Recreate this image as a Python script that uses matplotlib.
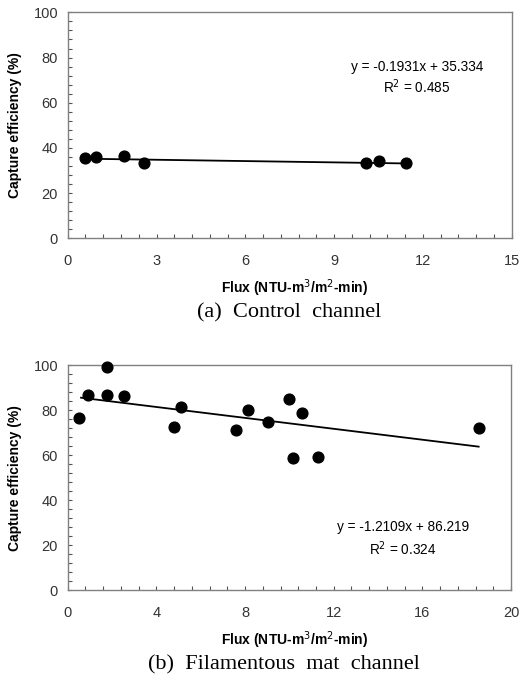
import matplotlib
matplotlib.use("Agg")
import matplotlib.pyplot as plt
from matplotlib.ticker import MultipleLocator
import numpy as np

# Control channel data
ctrl_flux = [0.60, 0.97, 1.89, 2.58, 10.09, 10.50, 11.43]
ctrl_eff = [35.5, 35.8, 36.3, 33.2, 33.2, 34.2, 33.2]
ctrl_slope, ctrl_icpt, ctrl_r2 = -0.1931, 35.334, 0.485

# Filamentous mat channel data
mat_flux = [0.53, 0.93, 1.79, 1.79, 2.54, 4.81, 5.10, 7.58, 8.15, 9.02,
            10.00, 10.17, 10.56, 11.28, 18.54]
mat_eff = [76.6, 86.7, 99.3, 86.7, 86.4, 72.5, 81.2, 71.3, 79.9, 74.9,
           85.1, 58.7, 78.8, 59.0, 72.2]
mat_slope, mat_icpt, mat_r2 = -1.2109, 86.219, 0.324

xlabel = "Flux (NTU-m$^{3}$/m$^{2}$-min)"
ylabel = "Capture efficiency (%)"

W, H = 519, 680
fig = plt.figure(figsize=(W / 100, H / 100), dpi=100)
sans = "Liberation Sans"
serif = "Liberation Serif"

def setup(ax, xmax, xmajor, xminor):
    ax.set_xlim(0, xmax)
    ax.set_ylim(0, 100)
    ax.xaxis.set_major_locator(MultipleLocator(xmajor))
    ax.xaxis.set_minor_locator(MultipleLocator(xminor))
    ax.yaxis.set_major_locator(MultipleLocator(20))
    ax.yaxis.set_minor_locator(MultipleLocator(4))
    for s in ax.spines.values():
        s.set_color("#808080")
        s.set_linewidth(1.0)
    ax.tick_params(which="both", direction="in", length=3, width=0.8,
                   color="#555555", top=False, right=False)
    ax.tick_params(which="major", labelsize=10.5, labelcolor="#333333")
    ax.tick_params(axis="x", which="major", pad=11)
    ax.tick_params(axis="y", which="major", pad=7)
    for lab in ax.get_xticklabels() + ax.get_yticklabels():
        lab.set_fontfamily(sans)
    ax.set_xlabel(xlabel, fontsize=10, fontweight="bold", family=sans)
    ax.set_ylabel(ylabel, fontsize=10, fontweight="bold", family=sans)
    bb = ax.get_position()
    wpx, hpx = bb.width * W, bb.height * H
    ax.xaxis.label.set_va("center")
    ax.yaxis.label.set_va("center")
    ax.xaxis.set_label_coords(0.5 + 5 / wpx, -50 / hpx)
    ax.yaxis.set_label_coords(-52.7 / wpx, 0.5)

ax1 = fig.add_axes([0.1305, 0.6496, 0.8555, 0.3322])
setup(ax1, 15, 3, 0.6)
ax1.scatter(ctrl_flux, ctrl_eff, s=60, color="black", zorder=3)
xl = np.array([min(ctrl_flux), max(ctrl_flux)])
ax1.plot(xl, ctrl_slope * xl + ctrl_icpt, color="black", lw=1.3)
ax1.text(11.8, 75.7, "y = -0.1931x + 35.334", ha="center", va="center",
         fontsize=9.8, family=sans)
ax1.text(11.8, 66.9, "R$^{2}$ = 0.485", ha="center", va="center",
         fontsize=9.8, family=sans)

ax2 = fig.add_axes([0.1305, 0.1319, 0.8541, 0.3313])
setup(ax2, 20, 4, 0.8)
ax2.scatter(mat_flux, mat_eff, s=60, color="black", zorder=3, clip_on=False)
xl2 = np.array([0.6, max(mat_flux)])
ax2.plot(xl2, mat_slope * xl2 + mat_icpt, color="black", lw=1.3)
ax2.text(15.13, 28.0, "y = -1.2109x + 86.219", ha="center", va="center",
         fontsize=9.8, family=sans)
ax2.text(15.13, 18.6, "R$^{2}$ = 0.324", ha="center", va="center",
         fontsize=9.8, family=sans)

fig.text(289.5 / W, 1 - 313 / H, "(a)  Control  channel", ha="center",
         va="center", fontsize=16, family=serif)
fig.text(284 / W, 1 - 665 / H, "(b)  Filamentous  mat  channel",
         ha="center", va="center", fontsize=16, family=serif)

fig.savefig("out.png", dpi=100)
